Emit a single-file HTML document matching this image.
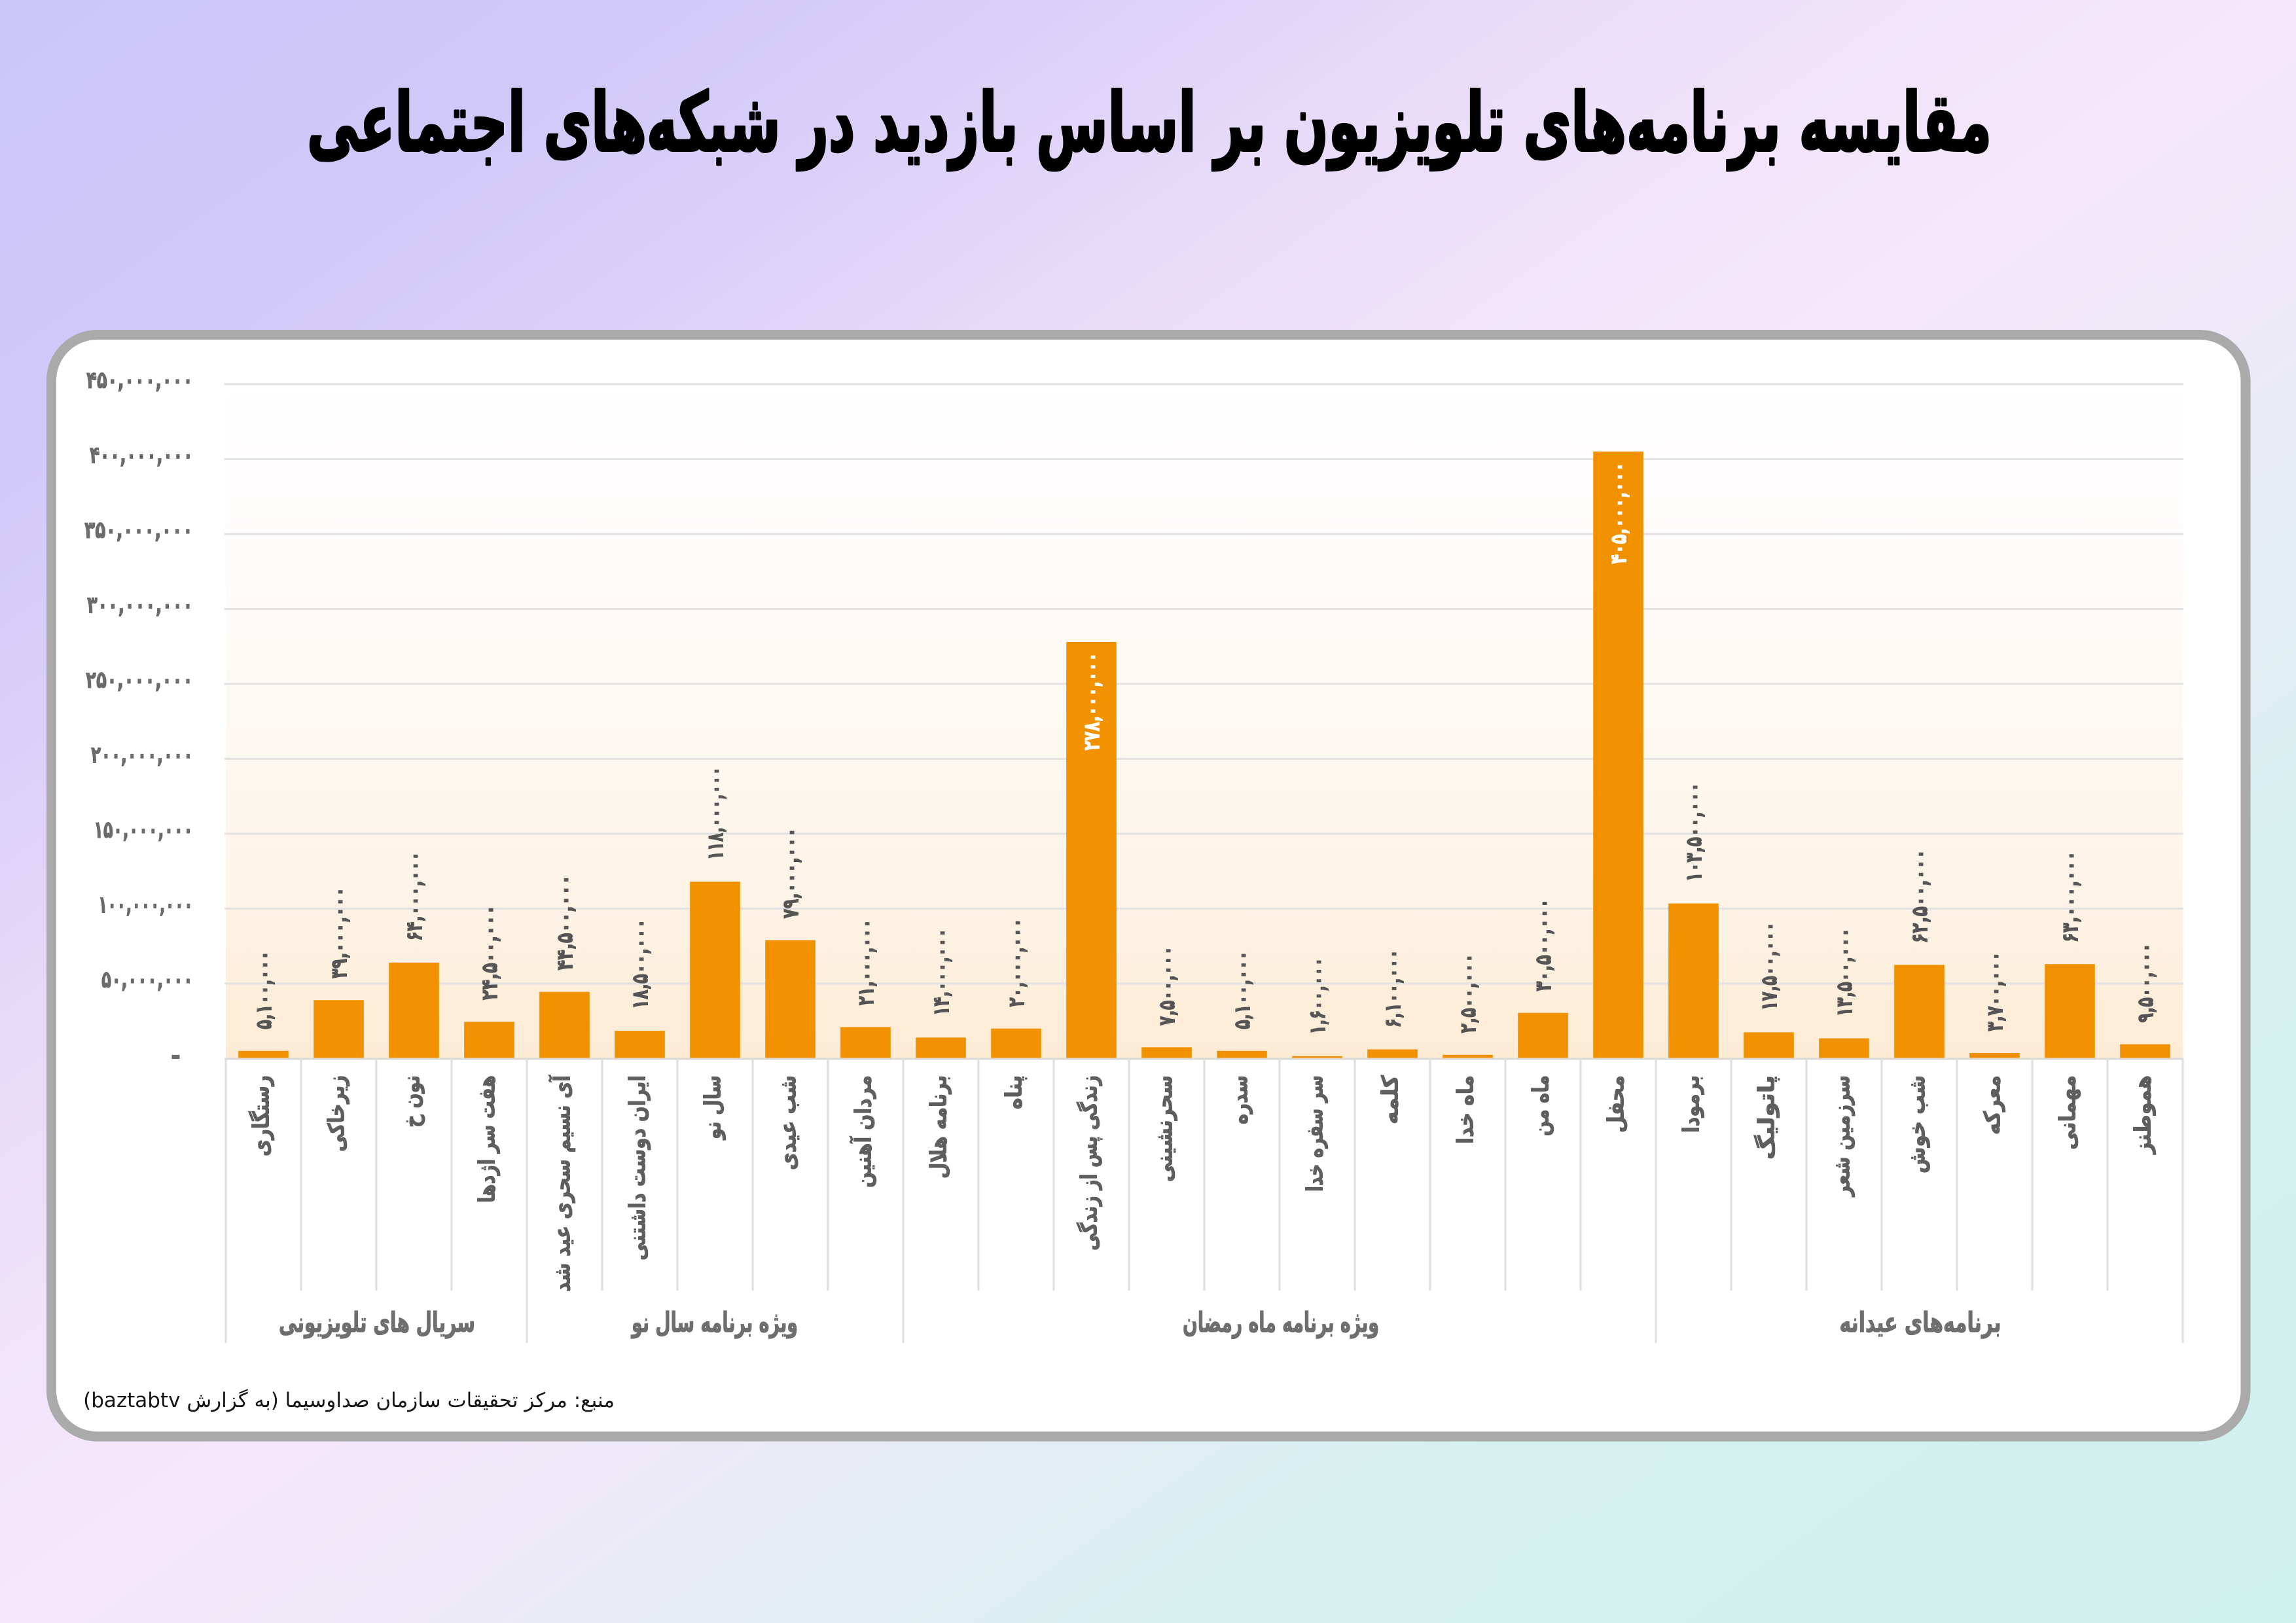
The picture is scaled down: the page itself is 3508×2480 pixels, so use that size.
<!DOCTYPE html>
<html>
<head>
<meta charset="utf-8">
<style>
  html,body{margin:0;padding:0;}
  body{width:3508px;height:2480px;overflow:hidden;position:relative;
    background:linear-gradient(to bottom right,#ccc5f8 0%,#d0c8f8 14%,#d9cff8 22%,#e8dbf9 33%,#f0e3fa 42%,#f5e8fa 50%,#ece9f7 60%,#e1edf3 69%,#d4f1ef 77%,#d1f1ee 100%);}
  svg{position:absolute;left:0;top:0;}
  .src{position:absolute;right:2569px;top:2118px;font-family:"DejaVu Sans",sans-serif;font-size:31px;line-height:44px;color:#151515;white-space:nowrap;direction:rtl;}
</style>
</head>
<body>
<svg width="3508" height="2480" viewBox="0 0 3508 2480" xmlns="http://www.w3.org/2000/svg" font-family="'DejaVu Sans', sans-serif">
  <defs>
    <linearGradient id="plotg" x1="0" y1="0" x2="0" y2="1">
      <stop offset="0" stop-color="#ffffff"/>
      <stop offset="0.15" stop-color="#fffcfd"/>
      <stop offset="0.5" stop-color="#fdf9f3"/>
      <stop offset="0.8" stop-color="#fdf2e4"/>
      <stop offset="1" stop-color="#fdebd4"/>
    </linearGradient>
  </defs>

  <!-- Title -->
  <text x="1756" y="230" text-anchor="middle" font-size="124" font-weight="bold" fill="#000" stroke="#000" stroke-width="4" stroke-linejoin="round" textLength="2574" lengthAdjust="spacingAndGlyphs">مقایسه برنامه‌های تلویزیون بر اساس بازدید در شبکه‌های اجتماعی</text>

  <!-- Card -->
  <rect x="78.5" y="511.5" width="3352.5" height="1683.5" rx="70" ry="70" fill="#ffffff" stroke="#aaaaaa" stroke-width="15"/>

  <!-- Plot area -->
  <rect x="345" y="587" width="2990" height="1030.5" fill="url(#plotg)"/>

  <!-- Gridlines -->
  <g stroke="#e2e2e2" stroke-width="3">
    <line x1="343" y1="1503" x2="3336" y2="1503"/>
    <line x1="343" y1="1388.5" x2="3336" y2="1388.5"/>
    <line x1="343" y1="1274" x2="3336" y2="1274"/>
    <line x1="343" y1="1159.5" x2="3336" y2="1159.5"/>
    <line x1="343" y1="1045" x2="3336" y2="1045"/>
    <line x1="343" y1="930.5" x2="3336" y2="930.5"/>
    <line x1="343" y1="816" x2="3336" y2="816"/>
    <line x1="343" y1="701.5" x2="3336" y2="701.5"/>
    <line x1="343" y1="587" x2="3336" y2="587"/>
  </g>

  <!-- Y labels -->
  <g font-size="36" font-weight="bold" fill="#6b6b6b" stroke="#6b6b6b" stroke-width="1" text-anchor="end">
    <text x="295" y="593" textLength="163" lengthAdjust="spacingAndGlyphs">۴۵۰,۰۰۰,۰۰۰</text>
    <text x="295" y="707.5" textLength="158" lengthAdjust="spacingAndGlyphs">۴۰۰,۰۰۰,۰۰۰</text>
    <text x="295" y="822" textLength="166" lengthAdjust="spacingAndGlyphs">۳۵۰,۰۰۰,۰۰۰</text>
    <text x="295" y="936.5" textLength="162" lengthAdjust="spacingAndGlyphs">۳۰۰,۰۰۰,۰۰۰</text>
    <text x="295" y="1051" textLength="164" lengthAdjust="spacingAndGlyphs">۲۵۰,۰۰۰,۰۰۰</text>
    <text x="295" y="1165.5" textLength="156" lengthAdjust="spacingAndGlyphs">۲۰۰,۰۰۰,۰۰۰</text>
    <text x="295" y="1280" textLength="152" lengthAdjust="spacingAndGlyphs">۱۵۰,۰۰۰,۰۰۰</text>
    <text x="295" y="1394.5" textLength="145" lengthAdjust="spacingAndGlyphs">۱۰۰,۰۰۰,۰۰۰</text>
    <text x="295" y="1509" textLength="140" lengthAdjust="spacingAndGlyphs">۵۰,۰۰۰,۰۰۰</text>
    <text x="276" y="1625">-</text>
  </g>

  <!-- Bars -->
  <g fill="#f29100">
    <rect x="364.2" y="1605.8" width="76.6" height="11.7"/>
    <rect x="479.2" y="1528.2" width="76.6" height="89.3"/>
    <rect x="594.2" y="1470.9" width="76.6" height="146.6"/>
    <rect x="709.2" y="1561.4" width="76.6" height="56.1"/>
    <rect x="824.2" y="1515.6" width="76.6" height="101.9"/>
    <rect x="939.2" y="1575.1" width="76.6" height="42.4"/>
    <rect x="1054.2" y="1347.3" width="76.6" height="270.2"/>
    <rect x="1169.2" y="1436.6" width="76.6" height="180.9"/>
    <rect x="1284.2" y="1569.4" width="76.6" height="48.1"/>
    <rect x="1399.2" y="1585.4" width="76.6" height="32.1"/>
    <rect x="1514.2" y="1571.7" width="76.6" height="45.8"/>
    <rect x="1629.2" y="980.9" width="76.6" height="636.6"/>
    <rect x="1744.2" y="1600.3" width="76.6" height="17.2"/>
    <rect x="1859.2" y="1605.8" width="76.6" height="11.7"/>
    <rect x="1974.2" y="1613.8" width="76.6" height="3.7"/>
    <rect x="2089.2" y="1603.5" width="76.6" height="14.0"/>
    <rect x="2204.2" y="1611.8" width="76.6" height="5.7"/>
    <rect x="2319.2" y="1547.7" width="76.6" height="69.8"/>
    <rect x="2434.2" y="690.0" width="76.6" height="927.5"/>
    <rect x="2549.2" y="1380.5" width="76.6" height="237.0"/>
    <rect x="2664.2" y="1577.4" width="76.6" height="40.1"/>
    <rect x="2779.2" y="1586.6" width="76.6" height="30.9"/>
    <rect x="2894.2" y="1474.4" width="76.6" height="143.1"/>
    <rect x="3009.2" y="1609.0" width="76.6" height="8.5"/>
    <rect x="3124.2" y="1473.2" width="76.6" height="144.3"/>
    <rect x="3239.2" y="1595.7" width="76.6" height="21.8"/>
  </g>

  <!-- Axis line -->
  <line x1="343" y1="1618" x2="3336" y2="1618" stroke="#d9d9d9" stroke-width="3"/>

  <!-- Separators -->
  <g stroke="#dedede" stroke-width="3">
    <line x1="345" y1="1618" x2="345" y2="2052"/>
    <line x1="460" y1="1618" x2="460" y2="1972"/>
    <line x1="575" y1="1618" x2="575" y2="1972"/>
    <line x1="690" y1="1618" x2="690" y2="1972"/>
    <line x1="805" y1="1618" x2="805" y2="2052"/>
    <line x1="920" y1="1618" x2="920" y2="1972"/>
    <line x1="1035" y1="1618" x2="1035" y2="1972"/>
    <line x1="1150" y1="1618" x2="1150" y2="1972"/>
    <line x1="1265" y1="1618" x2="1265" y2="1972"/>
    <line x1="1380" y1="1618" x2="1380" y2="2052"/>
    <line x1="1495" y1="1618" x2="1495" y2="1972"/>
    <line x1="1610" y1="1618" x2="1610" y2="1972"/>
    <line x1="1725" y1="1618" x2="1725" y2="1972"/>
    <line x1="1840" y1="1618" x2="1840" y2="1972"/>
    <line x1="1955" y1="1618" x2="1955" y2="1972"/>
    <line x1="2070" y1="1618" x2="2070" y2="1972"/>
    <line x1="2185" y1="1618" x2="2185" y2="1972"/>
    <line x1="2300" y1="1618" x2="2300" y2="1972"/>
    <line x1="2415" y1="1618" x2="2415" y2="1972"/>
    <line x1="2530" y1="1618" x2="2530" y2="2052"/>
    <line x1="2645" y1="1618" x2="2645" y2="1972"/>
    <line x1="2760" y1="1618" x2="2760" y2="1972"/>
    <line x1="2875" y1="1618" x2="2875" y2="1972"/>
    <line x1="2990" y1="1618" x2="2990" y2="1972"/>
    <line x1="3105" y1="1618" x2="3105" y2="1972"/>
    <line x1="3220" y1="1618" x2="3220" y2="1972"/>
    <line x1="3335" y1="1618" x2="3335" y2="2052"/>
  </g>

  <!-- Data labels (outside, gray) -->
  <g font-size="34" font-weight="bold" fill="#555555" stroke="#555555" stroke-width="1" text-anchor="start">
    <text transform="translate(402.5,1572.8) rotate(-90)" x="0" y="12" textLength="120" lengthAdjust="spacingAndGlyphs">۵,۱۰۰,۰۰۰</text>
    <text transform="translate(517.5,1495.2) rotate(-90)" x="0" y="12" textLength="140" lengthAdjust="spacingAndGlyphs">۳۹,۰۰۰,۰۰۰</text>
    <text transform="translate(632.5,1437.9) rotate(-90)" x="0" y="12" textLength="137" lengthAdjust="spacingAndGlyphs">۶۴,۰۰۰,۰۰۰</text>
    <text transform="translate(747.5,1528.4) rotate(-90)" x="0" y="12" textLength="146" lengthAdjust="spacingAndGlyphs">۲۴,۵۰۰,۰۰۰</text>
    <text transform="translate(862.5,1482.6) rotate(-90)" x="0" y="12" textLength="146" lengthAdjust="spacingAndGlyphs">۴۴,۵۰۰,۰۰۰</text>
    <text transform="translate(977.5,1542.1) rotate(-90)" x="0" y="12" textLength="138" lengthAdjust="spacingAndGlyphs">۱۸,۵۰۰,۰۰۰</text>
    <text transform="translate(1092.5,1314.3) rotate(-90)" x="0" y="12" textLength="143" lengthAdjust="spacingAndGlyphs">۱۱۸,۰۰۰,۰۰۰</text>
    <text transform="translate(1207.5,1403.6) rotate(-90)" x="0" y="12" textLength="139" lengthAdjust="spacingAndGlyphs">۷۹,۰۰۰,۰۰۰</text>
    <text transform="translate(1322.5,1536.4) rotate(-90)" x="0" y="12" textLength="132" lengthAdjust="spacingAndGlyphs">۲۱,۰۰۰,۰۰۰</text>
    <text transform="translate(1437.5,1552.4) rotate(-90)" x="0" y="12" textLength="134" lengthAdjust="spacingAndGlyphs">۱۴,۰۰۰,۰۰۰</text>
    <text transform="translate(1552.5,1538.7) rotate(-90)" x="0" y="12" textLength="136" lengthAdjust="spacingAndGlyphs">۲۰,۰۰۰,۰۰۰</text>
    <text transform="translate(1782.5,1567.3) rotate(-90)" x="0" y="12" textLength="122" lengthAdjust="spacingAndGlyphs">۷,۵۰۰,۰۰۰</text>
    <text transform="translate(1897.5,1572.8) rotate(-90)" x="0" y="12" textLength="120" lengthAdjust="spacingAndGlyphs">۵,۱۰۰,۰۰۰</text>
    <text transform="translate(2012.5,1580.8) rotate(-90)" x="0" y="12" textLength="118" lengthAdjust="spacingAndGlyphs">۱,۶۰۰,۰۰۰</text>
    <text transform="translate(2127.5,1570.5) rotate(-90)" x="0" y="12" textLength="120" lengthAdjust="spacingAndGlyphs">۶,۱۰۰,۰۰۰</text>
    <text transform="translate(2242.5,1578.8) rotate(-90)" x="0" y="12" textLength="122" lengthAdjust="spacingAndGlyphs">۲,۵۰۰,۰۰۰</text>
    <text transform="translate(2357.5,1514.7) rotate(-90)" x="0" y="12" textLength="142" lengthAdjust="spacingAndGlyphs">۳۰,۵۰۰,۰۰۰</text>
    <text transform="translate(2587.5,1347.5) rotate(-90)" x="0" y="12" textLength="152" lengthAdjust="spacingAndGlyphs">۱۰۳,۵۰۰,۰۰۰</text>
    <text transform="translate(2702.5,1544.4) rotate(-90)" x="0" y="12" textLength="136" lengthAdjust="spacingAndGlyphs">۱۷,۵۰۰,۰۰۰</text>
    <text transform="translate(2817.5,1553.6) rotate(-90)" x="0" y="12" textLength="136" lengthAdjust="spacingAndGlyphs">۱۳,۵۰۰,۰۰۰</text>
    <text transform="translate(2932.5,1441.4) rotate(-90)" x="0" y="12" textLength="144" lengthAdjust="spacingAndGlyphs">۶۲,۵۰۰,۰۰۰</text>
    <text transform="translate(3047.5,1576.0) rotate(-90)" x="0" y="12" textLength="122" lengthAdjust="spacingAndGlyphs">۳,۷۰۰,۰۰۰</text>
    <text transform="translate(3162.5,1440.2) rotate(-90)" x="0" y="12" textLength="140" lengthAdjust="spacingAndGlyphs">۶۳,۰۰۰,۰۰۰</text>
    <text transform="translate(3277.5,1562.7) rotate(-90)" x="0" y="12" textLength="122" lengthAdjust="spacingAndGlyphs">۹,۵۰۰,۰۰۰</text>
  </g>

  <!-- Data labels (inside, white) -->
  <g font-size="34" font-weight="bold" fill="#ffffff" stroke="#ffffff" stroke-width="1" text-anchor="end">
    <text transform="translate(1667.5,996.9) rotate(-90)" x="0" y="12" textLength="150" lengthAdjust="spacingAndGlyphs">۲۷۸,۰۰۰,۰۰۰</text>
    <text transform="translate(2472.5,706) rotate(-90)" x="0" y="12" textLength="156" lengthAdjust="spacingAndGlyphs">۴۰۵,۰۰۰,۰۰۰</text>
  </g>

  <!-- X category labels -->
  <g font-size="34" font-weight="bold" fill="#5e5e5e" stroke="#5e5e5e" stroke-width="1" text-anchor="end">
    <text transform="translate(402.5,1643) rotate(-90)" x="0" y="8" textLength="124" lengthAdjust="spacingAndGlyphs">رستگاری</text>
    <text transform="translate(517.5,1643) rotate(-90)" x="0" y="8" textLength="117" lengthAdjust="spacingAndGlyphs">زیرخاکی</text>
    <text transform="translate(632.5,1643) rotate(-90)" x="0" y="8" textLength="80" lengthAdjust="spacingAndGlyphs">نون خ</text>
    <text transform="translate(747.5,1643) rotate(-90)" x="0" y="8" textLength="195" lengthAdjust="spacingAndGlyphs">هفت سر اژدها</text>
    <text transform="translate(862.5,1643) rotate(-90)" x="0" y="8" textLength="331" lengthAdjust="spacingAndGlyphs">آی نسیم سحری عید شد</text>
    <text transform="translate(977.5,1643) rotate(-90)" x="0" y="8" textLength="283" lengthAdjust="spacingAndGlyphs">ایران دوست داشتنی</text>
    <text transform="translate(1092.5,1643) rotate(-90)" x="0" y="8" textLength="98" lengthAdjust="spacingAndGlyphs">سال نو</text>
    <text transform="translate(1207.5,1643) rotate(-90)" x="0" y="8" textLength="145" lengthAdjust="spacingAndGlyphs">شب عیدی</text>
    <text transform="translate(1322.5,1643) rotate(-90)" x="0" y="8" textLength="172" lengthAdjust="spacingAndGlyphs">مردان آهنین</text>
    <text transform="translate(1437.5,1643) rotate(-90)" x="0" y="8" textLength="158" lengthAdjust="spacingAndGlyphs">برنامه هلال</text>
    <text transform="translate(1552.5,1643) rotate(-90)" x="0" y="8" textLength="52" lengthAdjust="spacingAndGlyphs">پناه</text>
    <text transform="translate(1667.5,1643) rotate(-90)" x="0" y="8" textLength="268" lengthAdjust="spacingAndGlyphs">زندگی پس از زندگی</text>
    <text transform="translate(1782.5,1643) rotate(-90)" x="0" y="8" textLength="163" lengthAdjust="spacingAndGlyphs">سحرنشینی</text>
    <text transform="translate(1897.5,1643) rotate(-90)" x="0" y="8" textLength="75" lengthAdjust="spacingAndGlyphs">سدره</text>
    <text transform="translate(2012.5,1643) rotate(-90)" x="0" y="8" textLength="178" lengthAdjust="spacingAndGlyphs">سر سفره خدا</text>
    <text transform="translate(2127.5,1643) rotate(-90)" x="0" y="8" textLength="75" lengthAdjust="spacingAndGlyphs">کلمه</text>
    <text transform="translate(2242.5,1643) rotate(-90)" x="0" y="8" textLength="105" lengthAdjust="spacingAndGlyphs">ماه خدا</text>
    <text transform="translate(2357.5,1643) rotate(-90)" x="0" y="8" textLength="93" lengthAdjust="spacingAndGlyphs">ماه من</text>
    <text transform="translate(2472.5,1643) rotate(-90)" x="0" y="8" textLength="88" lengthAdjust="spacingAndGlyphs">محفل</text>
    <text transform="translate(2587.5,1643) rotate(-90)" x="0" y="8" textLength="88" lengthAdjust="spacingAndGlyphs">برمودا</text>
    <text transform="translate(2702.5,1643) rotate(-90)" x="0" y="8" textLength="129" lengthAdjust="spacingAndGlyphs">پاتولیگ</text>
    <text transform="translate(2817.5,1643) rotate(-90)" x="0" y="8" textLength="185" lengthAdjust="spacingAndGlyphs">سرزمین شعر</text>
    <text transform="translate(2932.5,1643) rotate(-90)" x="0" y="8" textLength="150" lengthAdjust="spacingAndGlyphs">شب خوش</text>
    <text transform="translate(3047.5,1643) rotate(-90)" x="0" y="8" textLength="91" lengthAdjust="spacingAndGlyphs">معرکه</text>
    <text transform="translate(3162.5,1643) rotate(-90)" x="0" y="8" textLength="114" lengthAdjust="spacingAndGlyphs">مهمانی</text>
    <text transform="translate(3277.5,1643) rotate(-90)" x="0" y="8" textLength="120" lengthAdjust="spacingAndGlyphs">هموطنز</text>
  </g>

  <!-- Group labels -->
  <g font-size="42" font-weight="bold" fill="#6e6e6e" stroke="#6e6e6e" stroke-width="1.2" text-anchor="middle">
    <text x="576" y="2035" textLength="300" lengthAdjust="spacingAndGlyphs">سریال های تلویزیونی</text>
    <text x="1092" y="2035" textLength="254" lengthAdjust="spacingAndGlyphs">ویژه برنامه سال نو</text>
    <text x="1957" y="2035" textLength="300" lengthAdjust="spacingAndGlyphs">ویژه برنامه ماه رمضان</text>
    <text x="2934" y="2035" textLength="247" lengthAdjust="spacingAndGlyphs">برنامه‌های عیدانه</text>
  </g>
</svg>
<div class="src" dir="rtl">منبع: مرکز تحقیقات سازمان صداوسیما (به گزارش baztabtv)</div>
</body>
</html>
